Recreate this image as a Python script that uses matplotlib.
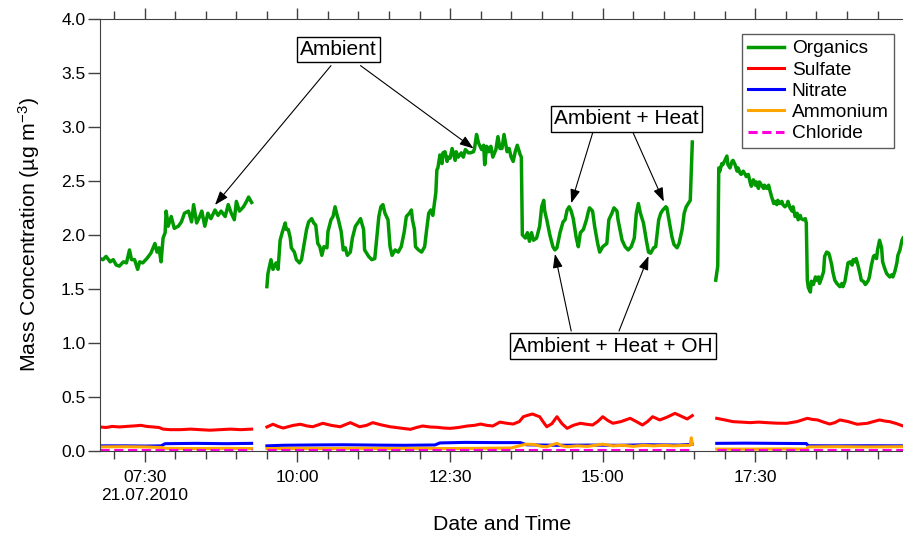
"""
AMS mass concentrations (Organics, Sulfate, Nitrate, Ammonium, Chloride)
on 21.07.2010 with the Ambient / Heat / OH periods annotated.
Output: out.png
"""
import numpy as np
import pandas as pd
import matplotlib
matplotlib.use("Agg")
import matplotlib.pyplot as plt
import matplotlib.dates as mdates

plt.rcParams["font.family"] = ["Liberation Sans", "DejaVu Sans"]
plt.rcParams["mathtext.default"] = "regular"

DAY = "2010-07-21 "
NAN = np.nan

# ---------------- data ----------------
org_time = [
    "06:46", "06:49", "06:52", "06:56", "06:59", "07:02", "07:05", "07:09", "07:12", "07:15",
    "07:17", "07:20", "07:23", "07:25", "07:28", "07:32", "07:36", "07:40", "07:42", "07:44",
    "07:46", "07:48", "07:50", "07:51", "07:53", "07:56", "07:59", "08:03", "08:06", "08:09",
    "08:13", "08:16", "08:18", "08:21", "08:24", "08:26", "08:29", "08:32", "08:35", "08:39",
    "08:42", "08:45", "08:49", "08:52", "08:55", "08:58", "09:00", "09:03", "09:07", "09:10",
    "09:12", "09:15", "09:22",
    "09:30", "09:31", "09:34", "09:36", "09:39", "09:41", "09:43", "09:45", "09:48", "09:49",
    "09:51", "09:53", "09:54", "09:57", "09:59", "10:02", "10:04", "10:07", "10:09", "10:11",
    "10:14", "10:16", "10:18", "10:20", "10:22", "10:24", "10:26", "10:29", "10:30", "10:33",
    "10:35", "10:37", "10:39", "10:40", "10:43", "10:45", "10:47", "10:49", "10:52", "10:54",
    "10:57", "11:00", "11:02", "11:05", "11:06", "11:10", "11:13", "11:16", "11:18", "11:20",
    "11:22", "11:24", "11:26", "11:29", "11:31", "11:33", "11:36", "11:39", "11:42", "11:45",
    "11:47", "11:50", "11:52", "11:53", "11:55", "11:56", "11:59", "12:02", "12:05", "12:07",
    "12:09", "12:11", "12:13", "12:16", "12:17", "12:18", "12:20", "12:22", "12:23", "12:25",
    "12:27", "12:28", "12:30", "12:32", "12:35", "12:36", "12:38", "12:41", "12:43", "12:45",
    "12:48", "12:50", "12:53", "12:54", "12:56", "12:58", "13:01", "13:03", "13:04", "13:06",
    "13:08", "13:10", "13:12", "13:15", "13:17", "13:19", "13:21", "13:23", "13:26", "13:28",
    "13:30", "13:32", "13:34", "13:36", "13:39", "13:40", "13:41", "13:44", "13:46", "13:48",
    "13:50", "13:52", "13:55", "13:58", "14:00", "14:02", "14:03", "14:05", "14:08", "14:11",
    "14:13", "14:15", "14:18", "14:21", "14:23", "14:25", "14:27", "14:29", "14:31", "14:34",
    "14:36", "14:38", "14:41", "14:44", "14:46", "14:47", "14:50", "14:52", "14:55", "14:57",
    "15:00", "15:04", "15:06", "15:09", "15:11", "15:14", "15:15", "15:19", "15:22", "15:25",
    "15:28", "15:31", "15:33", "15:35", "15:37", "15:40", "15:43", "15:45", "15:47", "15:50",
    "15:52", "15:55", "15:57", "15:59", "16:02", "16:03", "16:05", "16:08", "16:10", "16:13",
    "16:15", "16:18", "16:20", "16:22", "16:24", "16:26", "16:28", "16:40",
    "16:51", "16:53", "16:54", "16:55", "16:57", "16:58", "17:00", "17:02", "17:03", "17:05",
    "17:07", "17:08", "17:10", "17:12", "17:13", "17:15", "17:16", "17:18", "17:20", "17:21",
    "17:23", "17:25", "17:26", "17:28", "17:30", "17:31", "17:33", "17:34", "17:36", "17:38",
    "17:39", "17:41", "17:43", "17:44", "17:46", "17:48", "17:49", "17:51", "17:52", "17:54",
    "17:56", "17:57", "17:59", "18:01", "18:02", "18:04", "18:06", "18:07", "18:09", "18:11",
    "18:12", "18:14", "18:15", "18:17", "18:19", "18:20", "18:21", "18:22", "18:24", "18:25",
    "18:27", "18:29", "18:30", "18:32", "18:33", "18:35", "18:37", "18:38", "18:40", "18:42",
    "18:43", "18:45", "18:46", "18:48", "18:50", "18:51", "18:53", "18:55", "18:56", "18:58",
    "19:00", "19:01", "19:03", "19:05", "19:06", "19:08", "19:09", "19:11", "19:13", "19:14",
    "19:16", "19:18", "19:19", "19:21", "19:22", "19:24", "19:26", "19:27", "19:29", "19:30",
    "19:32", "19:34", "19:35", "19:37", "19:39", "19:40", "19:42", "19:44", "19:45", "19:47",
    "19:49", "19:50", "19:52", "19:54", "19:55",
]
org_val = [
    1.78, 1.77, 1.80, 1.75, 1.77, 1.72, 1.71, 1.75, 1.74, 1.86,
    1.77, 1.77, 1.68, 1.75, 1.74, 1.78, 1.83, 1.92, 1.84, 1.88,
    1.75, 1.97, 2.02, 2.22, 2.08, 2.17, 2.06, 2.08, 2.12, 2.20,
    2.22, 2.12, 2.28, 2.11, 2.17, 2.22, 2.08, 2.20, 2.15, 2.23,
    2.18, 2.22, 2.17, 2.28, 2.20, 2.14, 2.31, 2.22, 2.26, 2.31,
    2.35, 2.30, NAN,
    1.52, 1.64, 1.77, 1.68, 1.74, 1.68, 1.95, 2.02, 2.11, 2.05,
    2.05, 1.97, 1.88, 1.84, 1.77, 1.74, 1.77, 1.94, 2.05, 2.12,
    2.15, 2.11, 2.09, 1.92, 1.89, 1.81, 1.89, 1.88, 2.03, 2.14,
    2.17, 2.26, 2.18, 2.15, 2.03, 1.86, 1.88, 1.81, 1.84, 1.97,
    2.08, 2.12, 2.15, 2.05, 1.86, 1.80, 1.77, 1.78, 1.98, 2.17,
    2.26, 2.28, 2.20, 2.14, 1.89, 1.81, 1.86, 1.84, 1.89, 2.03,
    2.17, 2.20, 2.23, 2.14, 2.05, 1.89, 1.86, 1.84, 1.89, 2.05,
    2.20, 2.23, 2.18, 2.39, 2.60, 2.62, 2.74, 2.66, 2.76, 2.77,
    2.68, 2.72, 2.71, 2.80, 2.69, 2.77, 2.72, 2.76, 2.72, 2.79,
    2.76, 2.76, 2.77, 2.80, 2.93, 2.85, 2.79, 2.83, 2.65, 2.82,
    2.77, 2.82, 2.72, 2.79, 2.91, 2.80, 2.80, 2.93, 2.77, 2.80,
    2.72, 2.68, 2.77, 2.83, 2.74, 2.72, 2.00, 1.97, 2.02, 1.94,
    2.02, 1.95, 1.97, 2.08, 2.26, 2.32, 2.22, 2.14, 2.00, 1.89,
    1.86, 1.88, 2.02, 2.12, 2.14, 2.23, 2.26, 2.22, 2.15, 1.97,
    1.89, 2.02, 2.05, 2.14, 2.22, 2.25, 2.22, 2.08, 1.92, 1.84,
    1.89, 1.92, 2.14, 2.20, 2.25, 2.22, 2.14, 1.95, 1.89, 1.86,
    1.89, 1.97, 2.20, 2.29, 2.20, 2.11, 1.94, 1.84, 1.83, 1.88,
    1.89, 2.14, 2.20, 2.23, 2.26, 2.25, 2.14, 1.98, 1.91, 1.88,
    1.92, 2.05, 2.20, 2.26, 2.29, 2.32, 2.86, NAN,
    1.58, 1.71, 2.62, 2.59, 2.66, 2.65, 2.69, 2.73, 2.65, 2.62,
    2.68, 2.69, 2.65, 2.59, 2.62, 2.57, 2.56, 2.59, 2.56, 2.54,
    2.56, 2.48, 2.45, 2.51, 2.46, 2.49, 2.43, 2.49, 2.46, 2.43,
    2.46, 2.43, 2.46, 2.42, 2.35, 2.29, 2.31, 2.28, 2.32, 2.29,
    2.31, 2.28, 2.26, 2.28, 2.31, 2.25, 2.22, 2.26, 2.17, 2.20,
    2.14, 2.18, 2.15, 2.14, 2.15, 2.11, 1.58, 1.51, 1.47, 1.57,
    1.54, 1.61, 1.58, 1.61, 1.55, 1.60, 1.66, 1.80, 1.84, 1.83,
    1.80, 1.72, 1.66, 1.58, 1.55, 1.54, 1.52, 1.55, 1.52, 1.57,
    1.68, 1.74, 1.75, 1.72, 1.77, 1.75, 1.78, 1.71, 1.63, 1.58,
    1.57, 1.54, 1.55, 1.58, 1.61, 1.72, 1.80, 1.81, 1.78, 1.86,
    1.95, 1.88, 1.75, 1.69, 1.64, 1.63, 1.61, 1.63, 1.61, 1.66,
    1.74, 1.81, 1.86, 1.95, 1.97,
]

sul_time = [
    "06:46", "06:52", "06:58", "07:05", "07:12", "07:20", "07:26", "07:32", "07:38", "07:44",
    "07:48", "07:55", "08:05", "08:15", "08:24", "08:34", "08:44", "08:54", "09:04", "09:15",
    "09:22",
    "09:30", "09:36", "09:41", "09:46", "09:56", "10:03", "10:09", "10:15", "10:25", "10:33",
    "10:42", "10:52", "11:01", "11:08", "11:14", "11:22", "11:31", "11:41", "11:51", "11:57",
    "12:03", "12:10", "12:17", "12:24", "12:30", "12:38", "12:47", "12:54", "13:00", "13:06",
    "13:12", "13:19", "13:25", "13:32", "13:38", "13:42", "13:47", "13:51", "13:55", "13:58",
    "14:02", "14:05", "14:10", "14:15", "14:20", "14:25", "14:31", "14:38", "14:44", "14:50",
    "14:55", "15:00", "15:05", "15:10", "15:18", "15:27", "15:33", "15:39", "15:44", "15:49",
    "15:56", "16:03", "16:11", "16:17", "16:23", "16:28", "16:40",
    "16:52", "17:00", "17:08", "17:16", "17:25", "17:33", "17:41", "17:51", "18:01", "18:11",
    "18:21", "18:26", "18:31", "18:37", "18:43", "18:48", "18:53", "19:01", "19:10", "19:20",
    "19:26", "19:32", "19:37", "19:42", "19:49", "19:55",
]
sul_val = [
    0.220, 0.215, 0.225, 0.220, 0.225, 0.230, 0.235, 0.225, 0.220, 0.215,
    0.200, 0.195, 0.195, 0.200, 0.195, 0.190, 0.195, 0.200, 0.195, 0.200,
    NAN,
    0.220, 0.245, 0.225, 0.210, 0.235, 0.245, 0.230, 0.222, 0.254, 0.235,
    0.222, 0.260, 0.222, 0.235, 0.260, 0.240, 0.222, 0.210, 0.198, 0.215,
    0.229, 0.220, 0.217, 0.210, 0.207, 0.215, 0.229, 0.235, 0.247, 0.235,
    0.229, 0.265, 0.255, 0.247, 0.270, 0.315, 0.330, 0.340, 0.325, 0.315,
    0.260, 0.222, 0.250, 0.315, 0.250, 0.207, 0.235, 0.254, 0.245, 0.238,
    0.270, 0.315, 0.280, 0.254, 0.270, 0.300, 0.270, 0.238, 0.270, 0.315,
    0.285, 0.310, 0.346, 0.320, 0.294, 0.325, NAN,
    0.300, 0.285, 0.269, 0.265, 0.260, 0.265, 0.260, 0.255, 0.254, 0.270,
    0.300, 0.290, 0.285, 0.265, 0.247, 0.260, 0.285, 0.270, 0.245, 0.254,
    0.270, 0.285, 0.275, 0.269, 0.250, 0.229,
]

nit_time = [
    "06:46", "07:10", "07:30", "07:46", "07:50", "08:20", "08:50", "09:15", "09:22",
    "09:30", "09:45", "10:15", "10:45", "11:15", "11:45", "12:15", "12:20", "12:45", "13:15",
    "13:39", "13:45", "14:15", "14:45", "15:15", "15:45", "16:15", "16:28", "16:40",
    "16:52", "17:20", "17:50", "18:20", "18:22", "18:50", "19:20", "19:55",
]
nit_val = [
    0.045, 0.045, 0.043, 0.045, 0.065, 0.068, 0.065, 0.068, NAN,
    0.045, 0.050, 0.053, 0.055, 0.052, 0.050, 0.053, 0.072, 0.077, 0.075,
    0.075, 0.055, 0.050, 0.052, 0.050, 0.055, 0.052, 0.060, NAN,
    0.068, 0.070, 0.068, 0.066, 0.046, 0.045, 0.046, 0.045,
]

amm_time = [
    "06:46", "07:10", "07:30", "07:46", "07:50", "08:20", "08:50", "09:15", "09:22",
    "09:30", "10:00", "10:30", "11:00", "11:30", "12:00", "12:30", "13:00", "13:30", "13:40",
    "13:45", "13:52", "14:00", "14:05", "14:12", "14:15", "14:20", "14:25", "14:35", "14:45",
    "15:00", "15:10", "15:20", "15:30", "15:40", "15:50", "16:00", "16:10", "16:20", "16:26",
    "16:27", "16:28", "16:40",
    "16:52", "17:30", "18:00", "18:20", "18:22", "18:50", "19:20", "19:55",
]
amm_val = [
    0.035, 0.037, 0.035, 0.030, 0.022, 0.020, 0.022, 0.020, NAN,
    0.020, 0.022, 0.020, 0.022, 0.020, 0.022, 0.020, 0.022, 0.025, 0.050,
    0.060, 0.058, 0.040, 0.037, 0.060, 0.068, 0.045, 0.037, 0.045, 0.040,
    0.060, 0.045, 0.050, 0.040, 0.050, 0.045, 0.050, 0.045, 0.050, 0.050,
    0.120, 0.060, NAN,
    0.015, 0.015, 0.017, 0.015, 0.035, 0.037, 0.035, 0.037,
]

chl_time = ["06:46", "09:15", "09:22", "09:30", "16:28", "16:40", "16:52", "19:55"]
chl_val = [0.004, 0.004, NAN, 0.004, 0.004, NAN, 0.004, 0.004]

species = ["Organics", "Sulfate", "Nitrate", "Ammonium", "Chloride"]
colors = ["#009900", "#ff0000", "#0000ff", "#ffa500", "#ff00dd"]

major_ticks = ["07:30", "10:00", "12:30", "15:00", "17:30"]
major_labels = ["07:30\n21.07.2010", "10:00", "12:30", "15:00", "17:30"]
x_range = ["06:46", "19:56"]

# annotation boxes: (text, time, value) and arrows: (start, tip)
notes = [("Ambient", "10:40", 3.714),
         ("Ambient + Heat", "15:23", 3.074),
         ("Ambient + Heat + OH", "15:10", 0.970)]
arrows = [(("10:33", 3.568), ("08:39", 2.277)),
          (("11:02", 3.568), ("12:53", 2.800)),
          (("14:50", 2.942), ("14:29", 2.293)),
          (("15:30", 2.942), ("16:00", 2.308)),
          (("14:29", 1.109), ("14:13", 1.823)),
          (("15:16", 1.109), ("15:45", 1.804))]


def tt(hhmm):
    return pd.to_datetime([DAY + s for s in hhmm])


def t1(hhmm):
    return pd.Timestamp(DAY + hhmm)


# -------------------- plot --------------------
fig = plt.figure(figsize=(9.04, 5.33), dpi=100)
ax = fig.add_axes([0.1106, 0.1544, 0.8894, 0.81])

series = [(org_time, org_val), (sul_time, sul_val), (nit_time, nit_val),
          (amm_time, amm_val), (chl_time, chl_val)]
for (ts, vs), name, c in zip(series, species, colors):
    ls = (0, (3, 1.5)) if name == "Chloride" else "-"
    ax.plot(tt(ts), vs, color=c, lw=2.5 if name == "Organics" else 2.2,
            ls=ls, label=name, solid_joinstyle="round")

ax.set_xlim(t1(x_range[0]), t1(x_range[1]))
ax.set_ylim(0, 4.0)
ax.set_yticks(np.arange(0, 4.01, 0.5))
ax.yaxis.set_major_formatter(matplotlib.ticker.FormatStrFormatter("%.1f"))

ax.xaxis.set_major_locator(matplotlib.ticker.FixedLocator(mdates.date2num(tt(major_ticks))))
ax.xaxis.set_major_formatter(matplotlib.ticker.FixedFormatter(major_labels))
ax.xaxis.set_minor_locator(mdates.MinuteLocator(byminute=[0, 30]))

spine_c = "#404040"
for s in ["left", "bottom", "top"]:
    ax.spines[s].set_color(spine_c)
ax.spines["right"].set_visible(False)
ax.tick_params(axis="x", which="major", direction="out", length=8, width=1,
               top=True, color=spine_c, labelsize=12.5, pad=6)
ax.tick_params(axis="x", which="minor", direction="out", length=5.5, width=1,
               top=True, color=spine_c)
ax.tick_params(axis="y", direction="out", length=8.5, width=1, color=spine_c,
               labelsize=12.5, pad=2)
for lab in ax.get_xticklabels():
    lab.set_multialignment("center")

ax.set_xlabel("Date and Time", fontsize=15.3)
ax.set_ylabel("Mass Concentration (µg m$^{-3}$)", fontsize=15.3)
ax.xaxis.set_label_coords(0.5, -0.148)
ax.yaxis.set_label_coords(-0.072, 0.5)

leg = ax.legend(loc="upper right", bbox_to_anchor=(0.988, 0.965), fontsize=13.8,
                frameon=True, fancybox=False, handlelength=1.9, handletextpad=0.4,
                labelspacing=0.2, borderpad=0.3, borderaxespad=0)
leg.get_frame().set_edgecolor("#333333")
leg.get_frame().set_linewidth(1)

for text, tm, v in notes:
    ax.text(t1(tm), v, text, fontsize=15, ha="center", va="center",
            bbox=dict(boxstyle="square,pad=0.15", fc="white", ec="black", lw=1))
for (ts, vs), (te, ve) in arrows:
    ax.annotate("", xy=(t1(te), ve), xytext=(t1(ts), vs),
                arrowprops=dict(arrowstyle="-|>,head_length=0.7,head_width=0.25",
                                color="black", lw=0.8, shrinkA=0, shrinkB=0,
                                mutation_scale=12))

fig.savefig("out.png", dpi=100)
